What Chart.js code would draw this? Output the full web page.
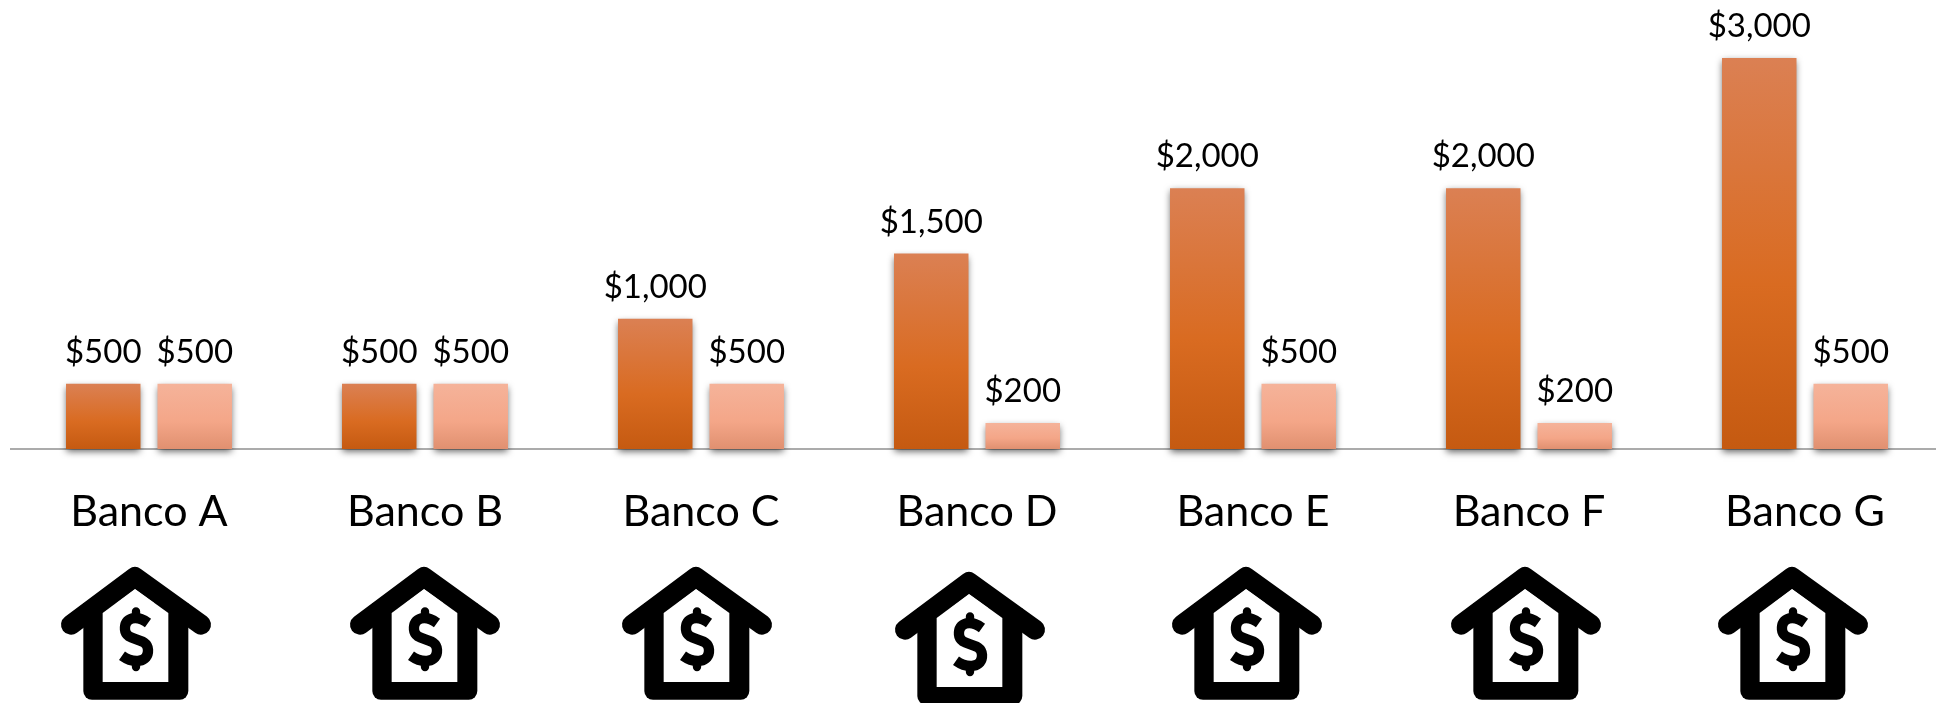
<!DOCTYPE html>
<html><head><meta charset="utf-8">
<style>html,body{margin:0;padding:0;background:#fff;overflow:hidden;width:1936px;height:703px}canvas{display:block;position:absolute;left:0;top:0}</style>
<script src="https://cdn.jsdelivr.net/npm/chart.js@4/dist/chart.umd.min.js"></script>
</head><body><canvas id="c" width="1943" height="703"></canvas>
<script>
const categories=['Banco A','Banco B','Banco C','Banco D','Banco E','Banco F','Banco G'];
const seriesDark=[500,500,1000,1500,2000,2000,3000];
const seriesLight=[500,500,500,200,500,200,500];
const iconX=[135,424,696,969,1246,1525,1792];
const iconY=[567,567,567,572,567,567,567];

function grad(ctx,stops,values){
  const c=ctx.chart, y=c.scales.y;
  if(!y||ctx.dataIndex===undefined) return stops[0];
  const top=y.getPixelForValue(values[ctx.dataIndex]), bot=y.getPixelForValue(0);
  if(!isFinite(top)||!isFinite(bot)) return stops[0];
  const g=c.ctx.createLinearGradient(0,top,0,bot);
  g.addColorStop(0,stops[0]);g.addColorStop(.58,stops[1]);g.addColorStop(1,stops[2]);
  return g;
}
const barShadow={id:'barShadow',
  beforeDatasetDraw(c){const x=c.ctx;x.save();x.shadowColor='rgba(0,0,0,.6)';x.shadowBlur=7;x.shadowOffsetY=3;},
  afterDatasetDraw(c){c.ctx.restore();}
};
const labels={id:'valueLabels',afterDatasetsDraw(c){
  const x=c.ctx;x.save();x.fillStyle='#000';x.font='33px Lato';x.textAlign='center';x.textBaseline='alphabetic';
  [seriesDark,seriesLight].forEach((vals,d)=>{
    c.getDatasetMeta(d).data.forEach((b,i)=>{
      x.fillText('$'+vals[i].toLocaleString('en-US'),b.x,b.y-21);
    });
  });
  x.restore();
}};
function house(x,cx,top){
  x.save();x.translate(cx,top);x.scale(1/3,1/3);x.translate(-405,-742);
  x.strokeStyle='#000';x.fillStyle='#000';x.lineCap='round';x.lineJoin='round';
  x.lineWidth=60;
  x.beginPath();x.moveTo(213,915);x.lineTo(405,772);x.lineTo(603,915);x.stroke();
  x.beginPath();x.roundRect(250,850,315,290,[0,0,26,26]);x.fill();
  x.fillStyle='#fff';
  x.beginPath();x.moveTo(308,880);x.lineTo(405,808);x.lineTo(505,880);x.lineTo(505,1087);x.lineTo(308,1087);x.closePath();x.fill();
  x.lineWidth=31;x.lineCap='butt';
  x.beginPath();x.moveTo(444,910);x.bezierCurveTo(410,885,372,892,375,930);x.bezierCurveTo(378,968,442,950,444,990);x.bezierCurveTo(446,1030,400,1032,366,1008);x.stroke();
  x.lineWidth=25;x.lineCap='round';
  x.beginPath();x.moveTo(408,875);x.lineTo(408,890);x.moveTo(408,1030);x.lineTo(408,1042);x.stroke();
  x.restore();
}
const icons={id:'icons',afterDraw(c){iconX.forEach((cx,i)=>house(c.ctx,cx,iconY[i]));}};

new Chart(document.getElementById('c'),{
  type:'bar',
  data:{labels:categories,datasets:[
    {data:seriesDark,clip:false,backgroundColor:ctx=>grad(ctx,['#DB8053','#D96B21','#C55A11'],seriesDark)},
    {data:seriesLight,clip:false,backgroundColor:ctx=>grad(ctx,['#F5B39A','#F4A688','#E09070'],seriesLight)}
  ]},
  options:{
    responsive:false,animation:false,
    layout:{padding:{top:58,left:11,right:0,bottom:0}},
    plugins:{legend:{display:false},tooltip:{enabled:false},title:{display:false}},
    datasets:{bar:{categoryPercentage:.663,barPercentage:.814,borderWidth:0}},
    scales:{
      x:{grid:{display:false,drawTicks:false},border:{display:true,color:'#ABABAB',width:2},
         afterFit:s=>{s.height=703-449;},
         ticks:{color:'#000',font:{family:'Lato',size:43},padding:37,maxRotation:0,autoSkip:false}},
      y:{display:false,min:0,max:3000}
    }
  },
  plugins:[barShadow,labels,icons]
});
</script></body></html>
